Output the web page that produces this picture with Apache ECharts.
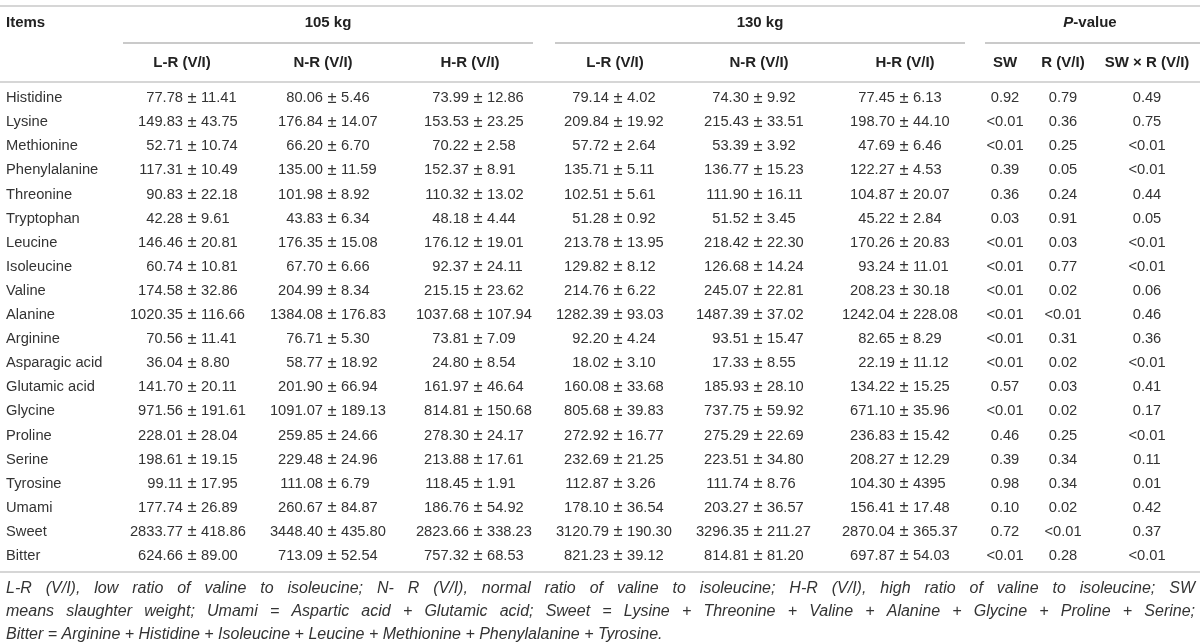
<!DOCTYPE html>
<html>

<head>
    <meta charset="utf-8">
    <title>Amino acids table</title>
    <script src="https://cdn.jsdelivr.net/npm/echarts@6/dist/echarts.min.js"></script>
    <style>
        html, body { margin: 0; padding: 0; background: #fff; }
    </style>
</head>

<body>
    <div id="main" style="width: 1200px;height:643px;"></div>
    <script type="text/javascript">
        var myChart = echarts.init(document.getElementById('main'), null, { renderer: 'canvas' });

        // rows
        var items = ["Histidine", "Lysine", "Methionine", "Phenylalanine", "Threonine", "Tryptophan",
            "Leucine", "Isoleucine", "Valine", "Alanine", "Arginine", "Asparagic acid", "Glutamic acid",
            "Glycine", "Proline", "Serine", "Tyrosine", "Umami", "Sweet", "Bitter"];

        // 105 kg
        var lr105 = ["77.78 ± 11.41", "149.83 ± 43.75", "52.71 ± 10.74", "117.31 ± 10.49", "90.83 ± 22.18",
            "42.28 ± 9.61", "146.46 ± 20.81", "60.74 ± 10.81", "174.58 ± 32.86", "1020.35 ± 116.66",
            "70.56 ± 11.41", "36.04 ± 8.80", "141.70 ± 20.11", "971.56 ± 191.61", "228.01 ± 28.04",
            "198.61 ± 19.15", "99.11 ± 17.95", "177.74 ± 26.89", "2833.77 ± 418.86", "624.66 ± 89.00"];
        var nr105 = ["80.06 ± 5.46", "176.84 ± 14.07", "66.20 ± 6.70", "135.00 ± 11.59", "101.98 ± 8.92",
            "43.83 ± 6.34", "176.35 ± 15.08", "67.70 ± 6.66", "204.99 ± 8.34", "1384.08 ± 176.83",
            "76.71 ± 5.30", "58.77 ± 18.92", "201.90 ± 66.94", "1091.07 ± 189.13", "259.85 ± 24.66",
            "229.48 ± 24.96", "111.08 ± 6.79", "260.67 ± 84.87", "3448.40 ± 435.80", "713.09 ± 52.54"];
        var hr105 = ["73.99 ± 12.86", "153.53 ± 23.25", "70.22 ± 2.58", "152.37 ± 8.91", "110.32 ± 13.02",
            "48.18 ± 4.44", "176.12 ± 19.01", "92.37 ± 24.11", "215.15 ± 23.62", "1037.68 ± 107.94",
            "73.81 ± 7.09", "24.80 ± 8.54", "161.97 ± 46.64", "814.81 ± 150.68", "278.30 ± 24.17",
            "213.88 ± 17.61", "118.45 ± 1.91", "186.76 ± 54.92", "2823.66 ± 338.23", "757.32 ± 68.53"];

        // 130 kg
        var lr130 = ["79.14 ± 4.02", "209.84 ± 19.92", "57.72 ± 2.64", "135.71 ± 5.11", "102.51 ± 5.61",
            "51.28 ± 0.92", "213.78 ± 13.95", "129.82 ± 8.12", "214.76 ± 6.22", "1282.39 ± 93.03",
            "92.20 ± 4.24", "18.02 ± 3.10", "160.08 ± 33.68", "805.68 ± 39.83", "272.92 ± 16.77",
            "232.69 ± 21.25", "112.87 ± 3.26", "178.10 ± 36.54", "3120.79 ± 190.30", "821.23 ± 39.12"];
        var nr130 = ["74.30 ± 9.92", "215.43 ± 33.51", "53.39 ± 3.92", "136.77 ± 15.23", "111.90 ± 16.11",
            "51.52 ± 3.45", "218.42 ± 22.30", "126.68 ± 14.24", "245.07 ± 22.81", "1487.39 ± 37.02",
            "93.51 ± 15.47", "17.33 ± 8.55", "185.93 ± 28.10", "737.75 ± 59.92", "275.29 ± 22.69",
            "223.51 ± 34.80", "111.74 ± 8.76", "203.27 ± 36.57", "3296.35 ± 211.27", "814.81 ± 81.20"];
        var hr130 = ["77.45 ± 6.13", "198.70 ± 44.10", "47.69 ± 6.46", "122.27 ± 4.53", "104.87 ± 20.07",
            "45.22 ± 2.84", "170.26 ± 20.83", "93.24 ± 11.01", "208.23 ± 30.18", "1242.04 ± 228.08",
            "82.65 ± 8.29", "22.19 ± 11.12", "134.22 ± 15.25", "671.10 ± 35.96", "236.83 ± 15.42",
            "208.27 ± 12.29", "104.30 ± 4395", "156.41 ± 17.48", "2870.04 ± 365.37", "697.87 ± 54.03"];

        // P-values
        var pSW = ["0.92", "<0.01", "<0.01", "0.39", "0.36", "0.03", "<0.01", "<0.01", "<0.01", "<0.01",
            "<0.01", "<0.01", "0.57", "<0.01", "0.46", "0.39", "0.98", "0.10", "0.72", "<0.01"];
        var pR = ["0.79", "0.36", "0.25", "0.05", "0.24", "0.91", "0.03", "0.77", "0.02", "<0.01",
            "0.31", "0.02", "0.03", "0.02", "0.25", "0.34", "0.34", "0.02", "<0.01", "0.28"];
        var pSWR = ["0.49", "0.75", "<0.01", "<0.01", "0.44", "0.05", "<0.01", "<0.01", "0.06", "0.46",
            "0.36", "<0.01", "0.41", "0.17", "<0.01", "0.11", "0.01", "0.42", "0.37", "<0.01"];

        var subHeaders = ["L-R (V/I)", "N-R (V/I)", "H-R (V/I)", "L-R (V/I)", "N-R (V/I)", "H-R (V/I)",
            "SW", "R (V/I)", "SW × R (V/I)"];

        var footnote = [
            "L-R (V/I), low ratio of valine to isoleucine; N- R (V/I), normal ratio of valine to isoleucine; H-R (V/I), high ratio of valine to isoleucine; SW",
            "means slaughter weight; Umami = Aspartic acid + Glutamic acid; Sweet = Lysine + Threonine + Valine + Alanine + Glycine + Proline + Serine;",
            "Bitter = Arginine + Histidine + Isoleucine + Leucine + Methionine + Phenylalanine + Tyrosine."
        ];

        // layout (pixels)
        var FONT = '"Liberation Sans", Arial, sans-serif';
        var bodySize = 14.7;
        var textColor = '#333';
        var pmX = [192, 332, 478, 618, 758, 904];         // x of the ± sign in each mean column
        var pmGap = 9;
        var subX = [182, 323, 470, 615, 759, 905, 1005, 1063, 1147];
        var pX = [1005, 1063, 1147];
        var ruleColor = '#d6d6d6';
        var groupRuleColor = '#b8b8b8';

        var meanCols = [lr105, nr105, hr105, lr130, nr130, hr130];
        var pCols = [pSW, pR, pSWR];

        var meanData = [];
        meanCols.forEach(function(col, c) {
            col.forEach(function(s, r) {
                var parts = s.split(' ± ');
                meanData.push([pmX[c], r, parts[0], parts[1]]);
            });
        });
        var pData = [];
        pCols.forEach(function(col, c) {
            col.forEach(function(s, r) {
                pData.push([pX[c], r, s]);
            });
        });
        var itemData = items.map(function(name, r) {
            return [6, r, name];
        });

        function txt(x, y, text, align, size) {
            return {
                type: 'text',
                style: {
                    x: x, y: y, text: text, fill: textColor, align: align, verticalAlign: 'middle',
                    font: (size || bodySize) + 'px ' + FONT
                }
            };
        }

        // footnote, justified like the original
        var ctx = document.createElement('canvas').getContext('2d');
        var noteFont = 'italic 16px ' + FONT;
        ctx.font = noteFont;
        var noteLeft = 6, noteRight = 1195, noteY = [589, 612, 635];
        var graphics = [];
        footnote.forEach(function(line, li) {
            var words = line.split(' ');
            if (li === footnote.length - 1) {
                graphics.push({ type: 'text', style: { x: noteLeft, y: noteY[li], text: line, font: noteFont, fill: textColor, verticalAlign: 'middle' } });
                return;
            }
            var widths = words.map(function(w) { return ctx.measureText(w).width; });
            var total = widths.reduce(function(a, b) { return a + b; }, 0);
            var gap = (noteRight - noteLeft - total) / (words.length - 1);
            var x = noteLeft;
            words.forEach(function(w, i) {
                graphics.push({ type: 'text', style: { x: x, y: noteY[li], text: w, font: noteFont, fill: textColor, verticalAlign: 'middle' } });
                x += widths[i] + gap;
            });
        });

        // rules
        function rule(x1, y, x2, color, w) {
            return { type: 'line', shape: { x1: x1, y1: y, x2: x2, y2: y }, style: { stroke: color, lineWidth: w } };
        }
        graphics.push(rule(0, 6, 1200, ruleColor, 2));
        graphics.push(rule(123, 43, 533, groupRuleColor, 1.5));
        graphics.push(rule(555, 43, 965, groupRuleColor, 1.5));
        graphics.push(rule(985, 43, 1200, groupRuleColor, 1.5));
        graphics.push(rule(0, 82, 1200, ruleColor, 2));
        graphics.push(rule(0, 572, 1200, ruleColor, 2));

        // header texts
        var boldFont = 'bold 15px ' + FONT;
        graphics.push({ type: 'text', style: { x: 6, y: 23, text: 'Items', font: boldFont, fill: '#222', verticalAlign: 'middle' } });
        graphics.push({ type: 'text', style: { x: 328, y: 23, text: '105 kg', font: boldFont, fill: '#222', align: 'center', verticalAlign: 'middle' } });
        graphics.push({ type: 'text', style: { x: 760, y: 23, text: '130 kg', font: boldFont, fill: '#222', align: 'center', verticalAlign: 'middle' } });
        graphics.push({
            type: 'text',
            style: {
                x: 1090, y: 23, text: '{i|P}-value', font: boldFont, fill: '#222', align: 'center', verticalAlign: 'middle',
                rich: { i: { fontStyle: 'italic', fontWeight: 'bold', fontSize: 15, fontFamily: FONT, fill: '#222' } }
            }
        });
        subHeaders.forEach(function(h, i) {
            graphics.push({ type: 'text', style: { x: subX[i], y: 63, text: h, font: boldFont, fill: '#222', align: 'center', verticalAlign: 'middle' } });
        });

        var option = {
            animation: false,
            backgroundColor: '#fff',
            grid: { left: 0, right: 0, top: 86, height: 482 },
            xAxis: { type: 'value', min: 0, max: 1200, show: false },
            yAxis: { type: 'category', data: items, inverse: true, show: false },
            graphic: graphics,
            series: [{
                name: 'items',
                type: 'custom',
                data: itemData,
                renderItem: function(params, api) {
                    var p = api.coord([api.value(0), api.value(1)]);
                    return txt(p[0], p[1], itemData[params.dataIndex][2], 'left');
                }
            }, {
                name: 'means',
                type: 'custom',
                data: meanData,
                renderItem: function(params, api) {
                    var d = meanData[params.dataIndex];
                    var p = api.coord([api.value(0), api.value(1)]);
                    return {
                        type: 'group',
                        children: [
                            txt(p[0] - pmGap, p[1], d[2], 'right'),
                            txt(p[0], p[1], '±', 'center', 16.5),
                            txt(p[0] + pmGap, p[1], d[3], 'left')
                        ]
                    };
                }
            }, {
                name: 'pvalues',
                type: 'custom',
                data: pData,
                renderItem: function(params, api) {
                    var p = api.coord([api.value(0), api.value(1)]);
                    return txt(p[0], p[1], pData[params.dataIndex][2], 'center');
                }
            }]
        };

        myChart.setOption(option);
    </script>
</body>

</html>
